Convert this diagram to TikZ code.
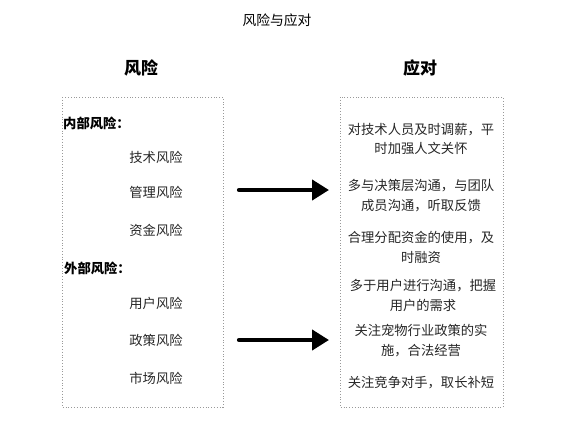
\documentclass[tikz,border=0pt]{standalone}
\usepackage{fontspec}
\setmainfont{Noto Sans CJK SC}
\usetikzlibrary{arrows.meta}
\tikzset{
  txt/.style={inner sep=0pt, font=\fontsize{13.3}{19}\selectfont, text=black!85},
  grp/.style={inner sep=0pt, font=\fontsize{13.3}{19}\selectfont\bfseries, anchor=west},
  rsp/.style={inner sep=0pt, font=\fontsize{13.3}{19.5}\selectfont, align=center, text=black!85},
  hdr/.style={inner sep=0pt, font=\fontsize{17}{20}\selectfont\bfseries},
  box/.style={draw=gray!80, dotted, line width=0.8pt},
  bigarrow/.style={line width=4.2pt, line cap=round, -{Triangle[length=17pt,width=20pt]}}
}
\begin{document}
\begin{tikzpicture}[x=1pt,y=-1pt]
\useasboundingbox (0,0) rectangle (565,440);
\node[inner sep=0pt, font=\fontsize{13.8}{16}\selectfont] (title) at (277,20) {风险与应对};
\node[hdr] (hl) at (141,68) {风险};
\node[hdr] (hr) at (420,68) {应对};
\draw[box] (62,97) rectangle (223,407);
\draw[box] (340,97) rectangle (503,407);
\node[grp] (g1) at (63,123) {内部风险：};
\node[txt] (r1) at (156,157) {技术风险};
\node[txt] (r2) at (156,192) {管理风险};
\node[txt] (r3) at (156,230) {资金风险};
\node[grp] (g2) at (64,268) {外部风险：};
\node[txt] (r4) at (156,303) {用户风险};
\node[txt] (r5) at (156,340) {政策风险};
\node[txt] (r6) at (156,378) {市场风险};
\node[rsp] (s1) at (421,139) {对技术人员及时调薪，平\\时加强人文关怀};
\node[rsp] (s2) at (421,195.5) {多与决策层沟通，与团队\\成员沟通，听取反馈};
\node[rsp] (s3) at (421,247.5) {合理分配资金的使用，及\\时融资};
\node[rsp] (s4) at (423,295.5) {多于用户进行沟通，把握\\用户的需求};
\node[rsp] (s5) at (421,340.5) {关注宠物行业政策的实\\施，合法经营};
\node[rsp] (s6) at (421,383) {关注竞争对手，取长补短};
\coordinate (a1s) at (239,190);
\coordinate (a1e) at (329,190);
\coordinate (a2s) at (239,340);
\coordinate (a2e) at (329,340);
\draw[bigarrow] (a1s) -- (a1e);
\draw[bigarrow] (a2s) -- (a2e);
\end{tikzpicture}
\end{document}
